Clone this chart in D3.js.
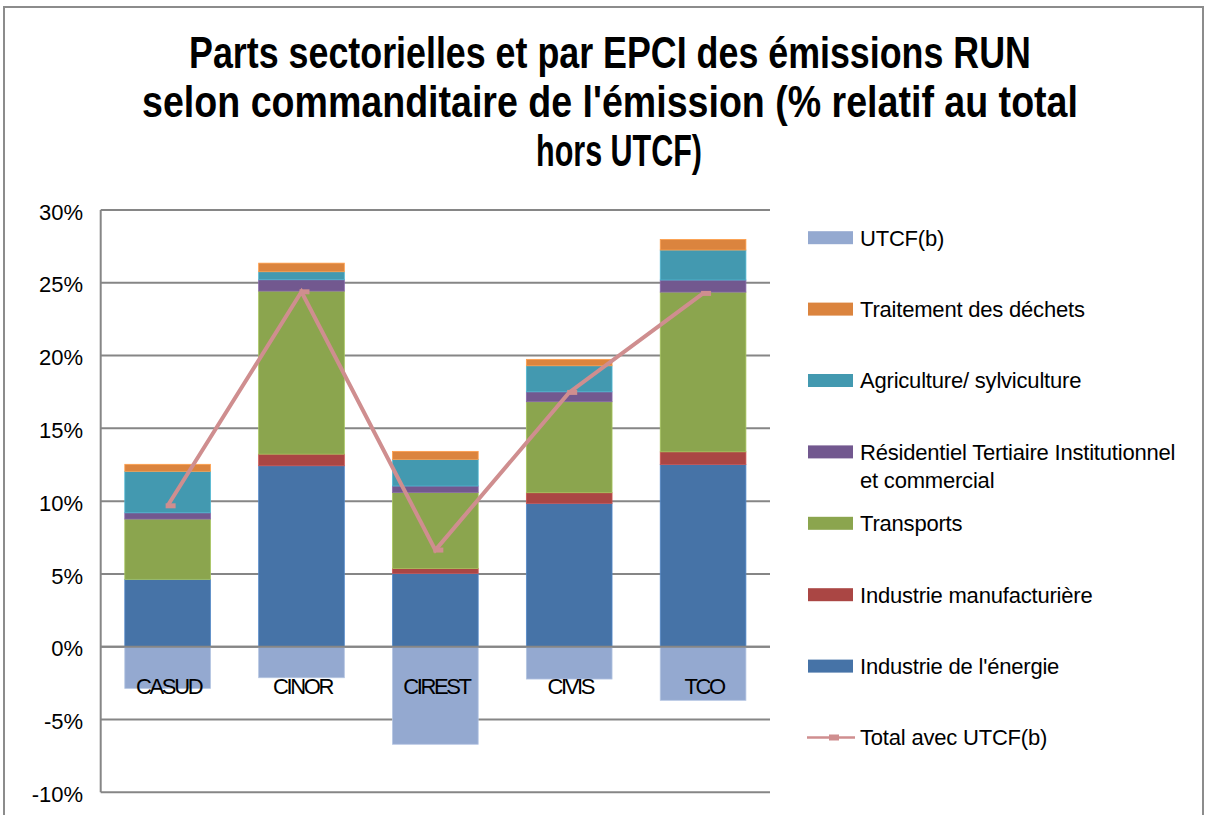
<!DOCTYPE html>
<html>
<head>
<meta charset="utf-8">
<script src="https://cdn.jsdelivr.net/npm/d3@7"></script>
<style>
  body { margin: 0; background: #fff; }
  svg { display: block; font-family: "Liberation Sans", Arial, sans-serif; }
</style>
</head>
<body>
<div id="chart"></div>
<script>
// data (% of total excluding UTCF)
const categories = ["CASUD", "CINOR", "CIREST", "CIVIS", "TCO"];
const energie = [4.63, 12.43, 5.04, 9.85, 12.52];
const manufacturiere = [0.0, 0.80, 0.34, 0.73, 0.87];
const transports = [4.14, 11.20, 5.22, 6.25, 10.97];
const residentiel = [0.43, 0.78, 0.44, 0.68, 0.83];
const agriculture = [2.85, 0.55, 1.83, 1.79, 2.06];
const dechets = [0.48, 0.59, 0.55, 0.44, 0.73];
const utcf = [-2.86, -2.13, -6.70, -2.22, -3.68];
const totalAvecUtcf = [9.68, 24.38, 6.64, 17.47, 24.27];
const yTicks = [-10, -5, 0, 5, 10, 15, 20, 25, 30];
const titleLines = [
  "Parts sectorielles et par EPCI des émissions RUN",
  "selon commanditaire de l'émission (% relatif au total",
  "hors UTCF)"
];

// stacked series, bottom to top
const stackSeries = [
  { key: "energie", name: "Industrie de l'énergie", values: energie, color: "#4673A7" },
  { key: "manuf", name: "Industrie manufacturière", values: manufacturiere, color: "#AA4644" },
  { key: "transports", name: "Transports", values: transports, color: "#8BA54E" },
  { key: "residentiel", name: "Résidentiel Tertiaire Institutionnel|et commercial", values: residentiel, color: "#72588F" },
  { key: "agriculture", name: "Agriculture/ sylviculture", values: agriculture, color: "#4399B0" },
  { key: "dechets", name: "Traitement des déchets", values: dechets, color: "#DB843E" }
];
const utcfColor = "#94A9D0";
const lineColor = "#CF8E8F";

const width = 1208, height = 815;
const plot = { left: 100.7, right: 770, top: 210, bottom: 792.3 };

const svg = d3.select("#chart").append("svg")
    .attr("width", width)
    .attr("height", height);

// outer chart border
svg.append("rect")
    .attr("x", 4).attr("y", 7)
    .attr("width", 1199).attr("height", 830)
    .attr("fill", "none")
    .attr("stroke", "#8c8c8c")
    .attr("stroke-width", 2);

// title: bold, squeezed horizontally to the reference's widths
// [centre x, baseline y, target width]
const titleBoxes = [[610, 68, 842], [610, 117, 936], [619, 166, 166]];
svg.append("g").selectAll("text")
    .data(titleLines)
    .enter().append("text")
    .attr("text-anchor", "middle")
    .attr("font-size", 44)
    .attr("font-weight", "bold")
    .attr("fill", "#000")
    .text(d => d)
    .each(function(d, i) {
      const b = titleBoxes[i];
      const natural = this.getComputedTextLength();
      const sx = Math.min(1, b[2] / natural);
      d3.select(this).attr("transform", `translate(${b[0]},${b[1]}) scale(${sx},1)`);
    });

// scales
const x = d3.scaleBand()
    .domain(categories)
    .range([plot.left, plot.right])
    .paddingInner(0.36)
    .paddingOuter(0.18);

const y = d3.scaleLinear()
    .domain([-10, 30])
    .range([plot.bottom, plot.top]);

// gridlines
svg.append("g").selectAll("line")
    .data(yTicks)
    .enter().append("line")
    .attr("x1", plot.left).attr("x2", plot.right)
    .attr("y1", d => y(d)).attr("y2", d => y(d))
    .attr("stroke", "#868686")
    .attr("stroke-width", 2);

// y axis line
svg.append("line")
    .attr("x1", plot.left).attr("x2", plot.left)
    .attr("y1", y(30)).attr("y2", y(-10))
    .attr("stroke", "#868686")
    .attr("stroke-width", 2);

// y tick labels
svg.append("g").selectAll("text")
    .data(yTicks)
    .enter().append("text")
    .attr("x", 83)
    .attr("y", d => y(d))
    .attr("dy", "0.44em")
    .attr("text-anchor", "end")
    .attr("font-size", 22)
    .attr("fill", "#000")
    .text(d => d + "%");

// stacked bars
const rows = categories.map((c, i) => {
  const r = { cat: c };
  stackSeries.forEach(s => { r[s.key] = s.values[i]; });
  return r;
});
const stacked = d3.stack().keys(stackSeries.map(s => s.key))(rows);

const barsG = svg.append("g");
stacked.forEach((layer, li) => {
  const col = stackSeries[li].color;
  barsG.append("g").selectAll("rect")
      .data(layer)
      .enter().append("rect")
      .attr("x", d => x(d.data.cat))
      .attr("width", x.bandwidth())
      .attr("y", d => y(d[1]))
      .attr("height", d => y(d[0]) - y(d[1]))
      .attr("fill", col)
      .attr("stroke", d3.color(col).brighter(0.5))
      .attr("stroke-width", 0.8);
});

// UTCF negative bars
barsG.append("g").selectAll("rect")
    .data(utcf)
    .enter().append("rect")
    .attr("x", (d, i) => x(categories[i]))
    .attr("width", x.bandwidth())
    .attr("y", y(0))
    .attr("height", d => y(d) - y(0))
    .attr("fill", utcfColor)
    .attr("stroke", "#B4C5E2")
    .attr("stroke-width", 0.8);

// zero line on top of the bars
svg.append("line")
    .attr("x1", plot.left).attr("x2", plot.right)
    .attr("y1", y(0)).attr("y2", y(0))
    .attr("stroke", "#868686")
    .attr("stroke-width", 2);

// category labels
svg.append("g").selectAll("text")
    .data(categories)
    .enter().append("text")
    .attr("x", d => x(d) + x.bandwidth() / 2 + 1)
    .attr("y", 694)
    .attr("text-anchor", "middle")
    .attr("font-size", 22)
    .attr("letter-spacing", "-2.4px")
    .attr("fill", "#000")
    .text(d => d);

// total line with UTCF
const line = d3.line()
    .x((d, i) => x(categories[i]) + x.bandwidth() / 2)
    .y(d => y(d));

svg.append("path")
    .datum(totalAvecUtcf)
    .attr("d", line)
    .attr("fill", "none")
    .attr("stroke", lineColor)
    .attr("stroke-width", 4)
    .attr("stroke-linejoin", "miter");

svg.append("g").selectAll("rect")
    .data(totalAvecUtcf)
    .enter().append("rect")
    .attr("x", (d, i) => x(categories[i]) + x.bandwidth() / 2 - 2)
    .attr("y", d => y(d) - 2.5)
    .attr("width", 10)
    .attr("height", 5)
    .attr("fill", lineColor);

// legend
const legendItems = [
  { name: "UTCF(b)", color: utcfColor }
].concat(stackSeries.slice().reverse().map(s => ({ name: s.name, color: s.color })))
 .concat([{ name: "Total avec UTCF(b)", color: lineColor, line: true }]);

const legend = svg.append("g");
const lg = legend.selectAll("g")
    .data(legendItems)
    .enter().append("g")
    .attr("transform", (d, i) => `translate(0, ${237.7 + i * 71.4})`);

lg.filter(d => !d.line).append("rect")
    .attr("x", 808).attr("y", -6.5)
    .attr("width", 45).attr("height", 13)
    .attr("fill", d => d.color);

const ll = lg.filter(d => d.line);
ll.append("line")
    .attr("x1", 807).attr("x2", 855)
    .attr("y1", 0).attr("y2", 0)
    .attr("stroke", d => d.color)
    .attr("stroke-width", 2.5);
ll.append("rect")
    .attr("x", 829).attr("y", -3)
    .attr("width", 10).attr("height", 6)
    .attr("fill", d => d.color);

lg.append("text")
    .attr("x", 860)
    .attr("y", 0)
    .attr("font-size", 22)
    .attr("letter-spacing", "-0.2px")
    .attr("fill", "#000")
    .each(function(d) {
      const parts = d.name.split("|");
      const t = d3.select(this);
      parts.forEach((p, k) => {
        t.append("tspan")
            .attr("x", 860)
            .attr("dy", k === 0 ? "0.36em" : "28px")
            .text(p);
      });
    });
</script>
</body>
</html>
